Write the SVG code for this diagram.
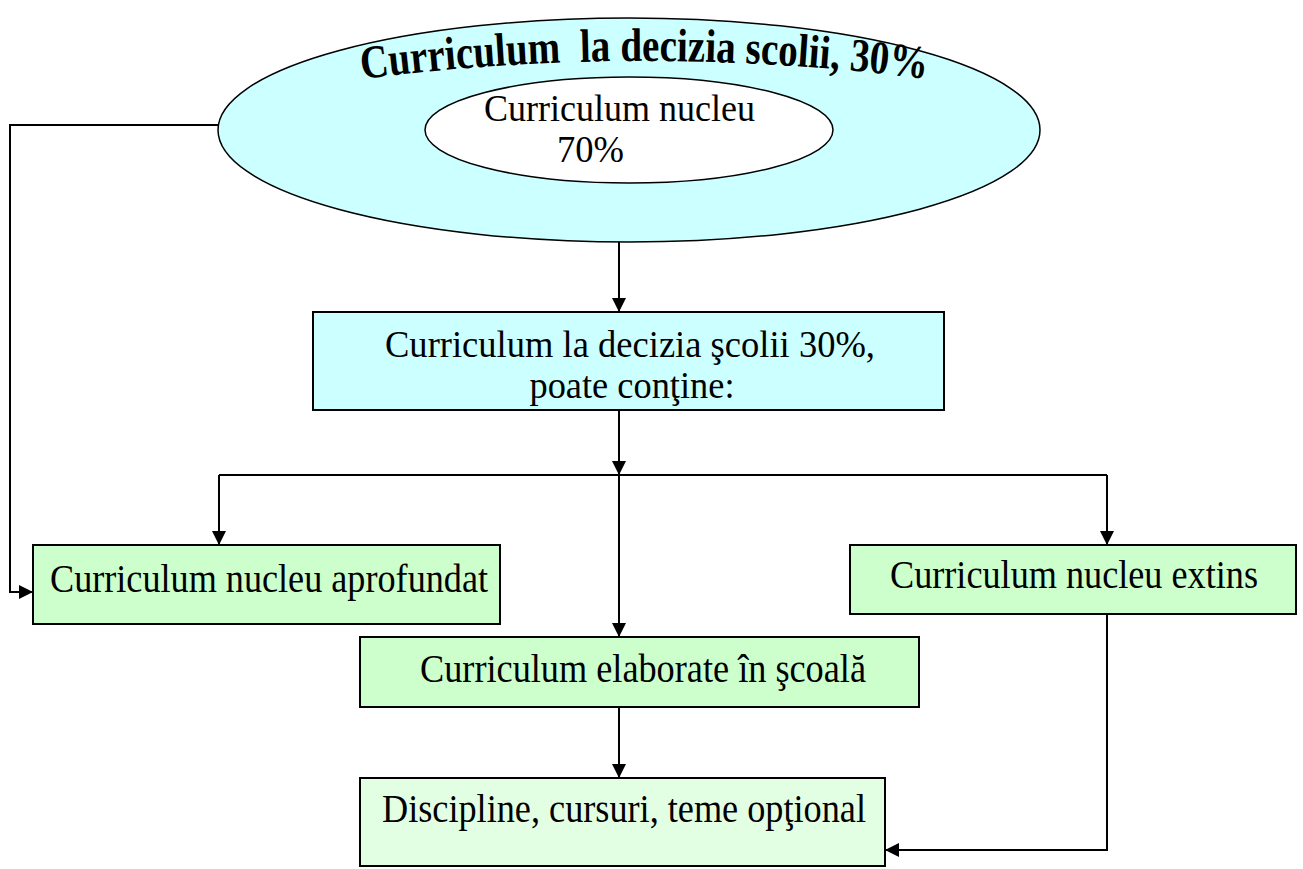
<svg xmlns="http://www.w3.org/2000/svg" width="1303" height="869" viewBox="0 0 1303 869">
  <style>
    .box { stroke: #000; stroke-width: 2; }
    .cyan { fill: #ccffff; }
    .green { fill: #ccffcc; }
    .pale { fill: #e3ffe3; }
    .lbl { font-family: "Liberation Serif", "Times New Roman", serif; font-size: 40px; fill: #000; }
    .tight { font-size: 37px; }
    .title { font-family: "Liberation Serif", "Times New Roman", serif; font-size: 47px; font-weight: bold; fill: #000; white-space: pre; }
    .wire { fill: none; stroke: #000; stroke-width: 2; }
    .arrow { marker-end: url(#head); }
  </style>
  <defs>
    <marker id="head" viewBox="0 0 14 14" refX="14" refY="7" markerWidth="14" markerHeight="14" markerUnits="userSpaceOnUse" orient="auto">
      <path d="M0,0 L14,7 L0,14 Z" fill="#000"/>
    </marker>
    <path id="titleArc" d="M 362 79 Q 643 43 928 79"/>
  </defs>

  <rect width="1303" height="869" fill="#fff"/>

  <!-- top: school-decided curriculum around the core curriculum -->
  <g id="curriculum-ellipse">
    <ellipse class="cyan" cx="629" cy="130" rx="411" ry="112" stroke="#000" stroke-width="1.5"/>
    <text class="title" xml:space="preserve"><textPath href="#titleArc" textLength="566" lengthAdjust="spacingAndGlyphs">Curriculum  la decizia scolii, 30%</textPath></text>
    <ellipse cx="629" cy="130" rx="204" ry="53" fill="#fff" stroke="#000" stroke-width="1.5"/>
    <text class="lbl tight" x="619.5" y="121" text-anchor="middle" textLength="271" lengthAdjust="spacingAndGlyphs">Curriculum nucleu</text>
    <text class="lbl tight" x="557" y="162" textLength="67" lengthAdjust="spacingAndGlyphs">70%</text>
  </g>

  <g id="connectors">
    <path class="wire arrow" d="M619,242 V312"/>
    <path class="wire arrow" d="M619,410 V475"/>
    <path class="wire" d="M219,475 H1107"/>
    <path class="wire arrow" d="M219,475 V545"/>
    <path class="wire arrow" d="M1107,475 V545"/>
    <path class="wire arrow" d="M619,475 V637"/>
    <path class="wire arrow" d="M619,707 V778"/>
    <path class="wire arrow" d="M219,125 H10 V592 H33"/>
    <path class="wire arrow" d="M1107,614 V850 H885"/>
  </g>

  <g id="school-decision">
    <rect class="box cyan" x="313" y="312" width="631" height="98"/>
    <text class="lbl tight" x="630" y="357" text-anchor="middle" textLength="490" lengthAdjust="spacingAndGlyphs">Curriculum la decizia şcolii 30%,</text>
    <text class="lbl tight" x="632" y="398" text-anchor="middle" textLength="205" lengthAdjust="spacingAndGlyphs">poate conţine:</text>
  </g>

  <g id="core-deepened">
    <rect class="box green" x="33" y="545" width="467" height="79"/>
    <text class="lbl" x="269" y="592" text-anchor="middle" textLength="438" lengthAdjust="spacingAndGlyphs">Curriculum nucleu aprofundat</text>
  </g>

  <g id="core-extended">
    <rect class="box green" x="850" y="545" width="446" height="69"/>
    <text class="lbl" x="1074" y="588" text-anchor="middle" textLength="368" lengthAdjust="spacingAndGlyphs">Curriculum nucleu extins</text>
  </g>

  <g id="school-developed">
    <rect class="box green" x="360" y="637" width="559" height="70"/>
    <text class="lbl" x="643" y="682" text-anchor="middle" textLength="446" lengthAdjust="spacingAndGlyphs">Curriculum elaborate în şcoală</text>
  </g>

  <g id="optional-courses">
    <rect class="box pale" x="360" y="778" width="525" height="88"/>
    <text class="lbl" x="624" y="822" text-anchor="middle" textLength="484" lengthAdjust="spacingAndGlyphs">Discipline, cursuri, teme opţional</text>
  </g>
</svg>
